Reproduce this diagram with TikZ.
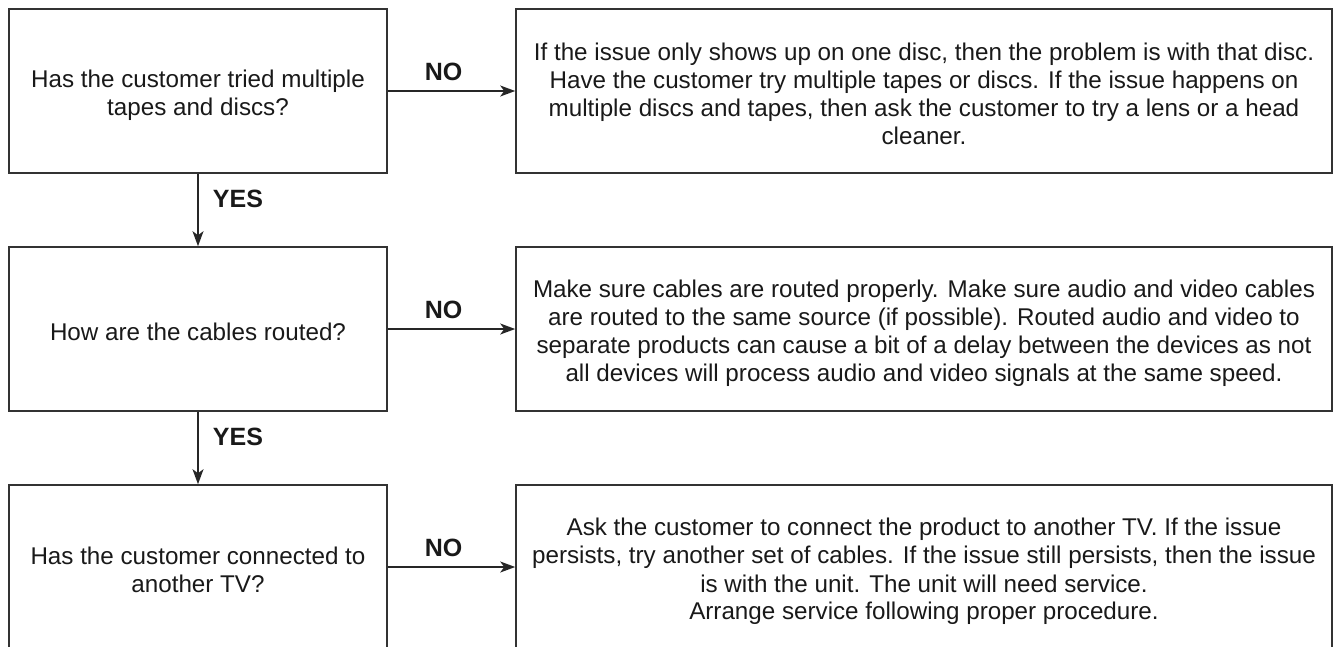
\documentclass[tikz,border=0pt]{standalone}
\usepackage{fontspec}
\setmainfont{Liberation Sans}
\usetikzlibrary{arrows.meta}
\newcommand\tstrut{\rule{0pt}{27pt}}
\newcommand\bstrut{\rule[-5pt]{0pt}{5pt}}
\tikzset{
  boxbase/.style={draw=black!80, line width=1.6pt, minimum height=164pt, align=center, inner sep=0pt, font=\fontsize{24.2}{28}\selectfont, text=black!90},
  qbox/.style={boxbase, minimum width=378pt},
  abox/.style={boxbase, minimum width=816pt},
  arr/.style={draw=black!85, line width=1.6pt, -{Stealth[length=15pt,width=11pt,inset=4pt]}},
  lbl/.style={font=\fontsize{25}{30}\bfseries\selectfont, text=black!90, inner sep=0pt}
}
\begin{document}
\begin{tikzpicture}[x=1pt,y=-1pt]
\useasboundingbox (0,0) rectangle (1336,646);
\clip (0,0) rectangle (1336,646);
\node[qbox] (q1) at (198,91) {\tstrut Has the customer tried multiple\\tapes and discs?\bstrut};
\node[qbox] (q2) at (198,329) {\tstrut How are the cables routed?\bstrut};
\node[qbox] (q3) at (198,567) {\tstrut Has the customer connected to\\another TV?\bstrut};
\node[abox] (a1) at (924,91) {\tstrut If the issue only shows up on one disc, then the problem is with that disc.\\Have the customer try multiple tapes or discs. If the issue happens on\\multiple discs and tapes, then ask the customer to try a lens or a head\\cleaner.\bstrut};
\node[abox] (a2) at (924,329) {\tstrut Make sure cables are routed properly. Make sure audio and video cables\\are routed to the same source (if possible). Routed audio and video to\\separate products can cause a bit of a delay between the devices as not\\all devices will process audio and video signals at the same speed.\bstrut};
\node[abox] (a3) at (924,567) {\tstrut Ask the customer to connect the product to another TV. If the issue\\persists, try another set of cables. If the issue still persists, then the issue\\is with the unit. The unit will need service.\\Arrange service following proper procedure.\bstrut};
\draw[arr] (q1.east) -- (a1.west) node[lbl, midway, xshift=-8pt, yshift=19pt] {NO};
\draw[arr] (q2.east) -- (a2.west) node[lbl, midway, xshift=-8pt, yshift=19pt] {NO};
\draw[arr] (q3.east) -- (a3.west) node[lbl, midway, xshift=-8pt, yshift=19pt] {NO};
\draw[arr] (q1.south) -- (q2.north) node[lbl, midway, xshift=40pt, yshift=11pt] {YES};
\draw[arr] (q2.south) -- (q3.north) node[lbl, midway, xshift=40pt, yshift=11pt] {YES};
\end{tikzpicture}
\end{document}
